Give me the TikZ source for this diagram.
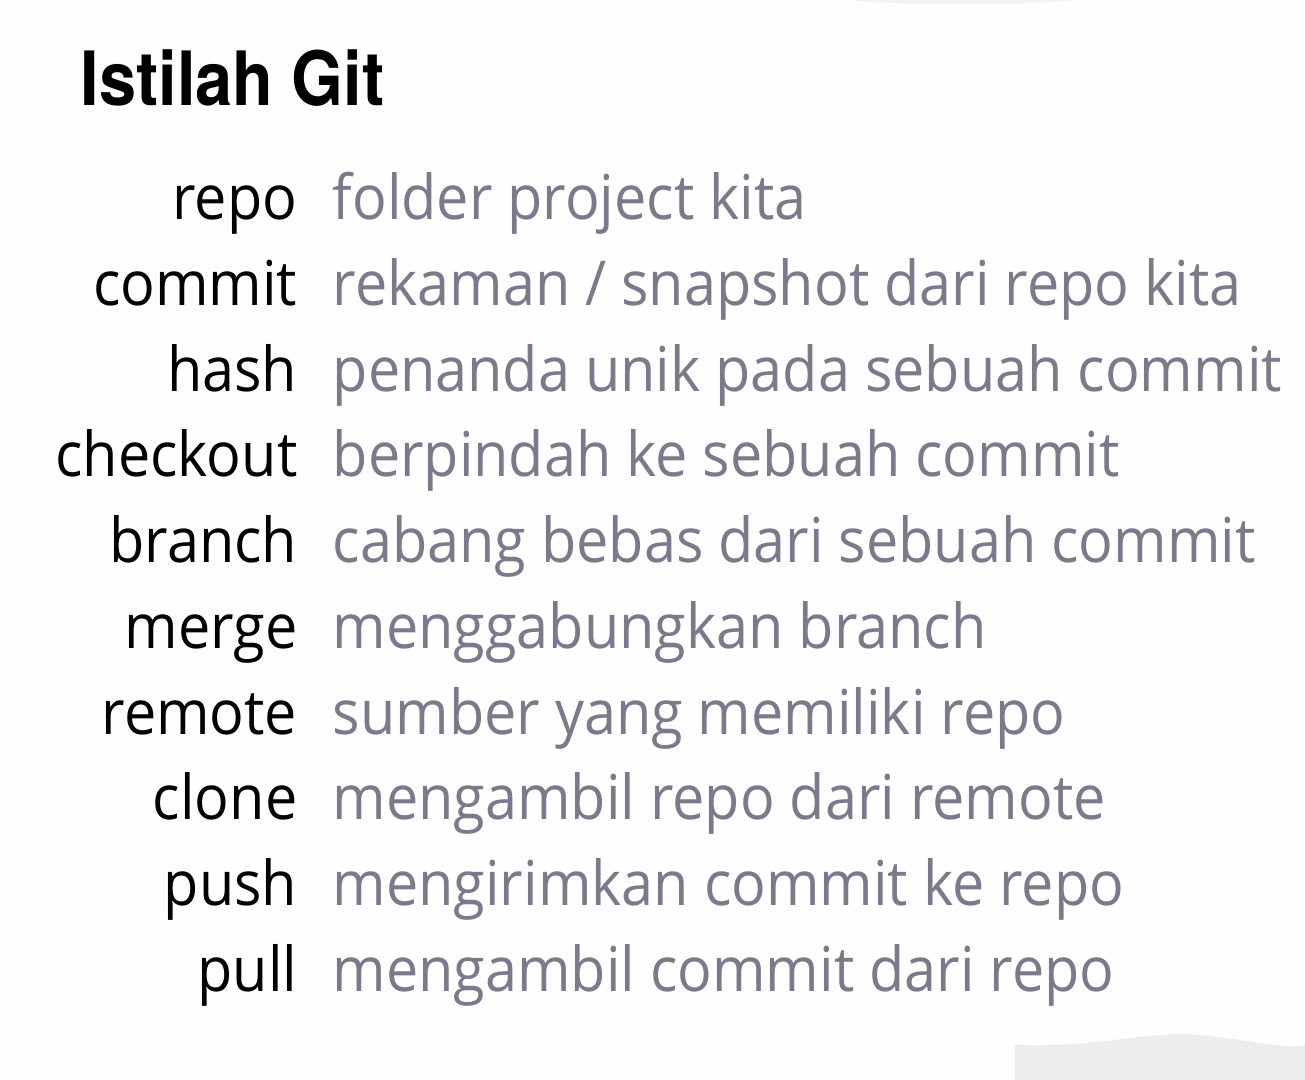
\documentclass[tikz,border=0pt]{standalone}
\usepackage{fontspec}
\setmainfont[FakeStretch=0.93]{Open Sans}
\newfontfamily\titlefont[FakeStretch=0.89]{TeX Gyre Heros}
\usetikzlibrary{positioning}
\definecolor{descGray}{HTML}{7B7A8C}
\definecolor{smudge}{HTML}{E9E9E9}
\tikzstyle{title} = [anchor=base west, inner sep=0pt, font=\titlefont\bfseries\fontsize{21.3}{25}\selectfont]
\tikzstyle{term} = [anchor=base east, inner sep=0pt, text=black, font=\fontsize{17.6}{20}\selectfont]
\tikzstyle{desc} = [anchor=base west, inner sep=0pt, text=descGray, font=\fontsize{17.6}{20}\selectfont]

\begin{document}
\begin{tikzpicture}[x=0.01cm, y=-0.01cm]

   \useasboundingbox (0,0) rectangle (1305,1080);
   \fill[white!99.5!black] (0,0) rectangle (1305,1080);

   % smudges of the scan
   \fill[smudge, opacity=0.5] (850,0) .. controls (900,6) and (1020,6) .. (1075,0) -- cycle;
   \fill[smudge, opacity=0.8] (1015,1080) -- (1015,1045) .. controls (1100,1048) and (1150,1030) .. (1200,1035) .. controls (1250,1040) and (1290,1050) .. (1305,1045) -- (1305,1080) -- cycle;

   \node[title] (title) at (80,106) {Istilah Git};

   % Terms
   \node[term] (tRepo)     at (298,220) {repo};
   \node[term] (tCommit)   at (298,306) {commit};
   \node[term] (tHash)     at (298,392) {hash};
   \node[term] (tCheckout) at (298,477) {checkout};
   \node[term] (tBranch)   at (298,563) {branch};
   \node[term] (tMerge)    at (298,649) {merge};
   \node[term] (tRemote)   at (298,735) {remote};
   \node[term] (tClone)    at (298,820) {clone};
   \node[term] (tPush)     at (298,906) {push};
   \node[term] (tPull)     at (298,992) {pull};

   % Descriptions
   \node[desc] (dRepo)     at (tRepo.base east)[xshift=0.34cm]     {folder project kita};
   \node[desc] (dCommit)   at (tCommit.base east)[xshift=0.34cm]   {rekaman / snapshot dari repo kita};
   \node[desc] (dHash)     at (tHash.base east)[xshift=0.34cm]     {penanda unik pada sebuah commit};
   \node[desc] (dCheckout) at (tCheckout.base east)[xshift=0.34cm] {berpindah ke sebuah commit};
   \node[desc] (dBranch)   at (tBranch.base east)[xshift=0.34cm]   {cabang bebas dari sebuah commit};
   \node[desc] (dMerge)    at (tMerge.base east)[xshift=0.34cm]    {menggabungkan branch};
   \node[desc] (dRemote)   at (tRemote.base east)[xshift=0.34cm]   {sumber yang memiliki repo};
   \node[desc] (dClone)    at (tClone.base east)[xshift=0.34cm]    {mengambil repo dari remote};
   \node[desc] (dPush)     at (tPush.base east)[xshift=0.34cm]     {mengirimkan commit ke repo};
   \node[desc] (dPull)     at (tPull.base east)[xshift=0.34cm]     {mengambil commit dari repo};

\end{tikzpicture}
\end{document}
